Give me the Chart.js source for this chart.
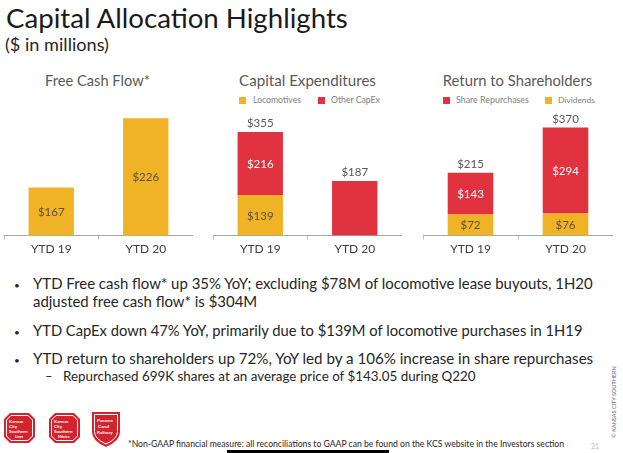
<!DOCTYPE html>
<html>
<head>
<meta charset="utf-8">
<script src="https://cdn.jsdelivr.net/npm/chart.js@4"></script>
<style>
  body { margin: 0; width: 623px; height: 453px; position: relative; overflow: hidden; background: #fff; font-family: Lato, sans-serif; }
  .t { position: absolute; white-space: nowrap; line-height: 1; }
  canvas { position: absolute; }
  .sq { position: absolute; width: 7px; height: 7px; top: 97px; }
  .title { color: #1a1a1a; font-size: 27px; }
  .sub { color: #262626; font-size: 16px; }
  .ct { color: #595959; font-size: 15px; }
  .lg { color: #7f7f7f; font-size: 9px; }
  .bl { color: #262626; font-size: 15.5px; }
  .dot { color: #262626; font-size: 10px; }
  .sm { color: #262626; font-size: 13px; }
  .fn { color: #262626; font-size: 7.5px; }
</style>
</head>
<body>

<div class="t title" data-x="6" data-cy="19" data-w="342">Capital Allocation Highlights</div>
<div class="t sub" data-x="5" data-cy="45" data-w="104">($ in millions)</div>

<div class="t ct" data-cx="97.5" data-cy="81.3" data-w="105">Free Cash Flow*</div>
<div class="t ct" data-cx="307.5" data-cy="81.3" data-w="137">Capital Expenditures</div>
<div class="t ct" data-cx="517.5" data-cy="81.3" data-w="149.6">Return to Shareholders</div>

<div class="sq" style="left:239px;background:#EFB325"></div>
<div class="t lg" data-x="253" data-cy="100.5" data-w="48">Locomotives</div>
<div class="sq" style="left:318px;background:#E0333F"></div>
<div class="t lg" data-x="331" data-cy="100.5" data-w="49">Other CapEx</div>
<div class="sq" style="left:443px;background:#E0333F"></div>
<div class="t lg" data-x="456" data-cy="100.5" data-w="73">Share Repurchases</div>
<div class="sq" style="left:545px;background:#EFB325"></div>
<div class="t lg" data-x="558" data-cy="100.5" data-w="37">Dividends</div>

<canvas id="fcfChart" width="189" height="148" style="left:4px;top:110px"></canvas>
<canvas id="capexChart" width="189" height="148" style="left:213px;top:110px"></canvas>
<canvas id="returnChart" width="190" height="148" style="left:423px;top:110px"></canvas>

<div class="t dot" data-x="14" data-cy="285">•</div>
<div class="t bl" id="line1" data-x="33" data-cy="284" data-w="560">YTD Free cash flow* up 35% YoY; excluding $78M of locomotive lease buyouts, 1H20</div>
<div class="t bl" id="line2" data-x="33" data-cy="302">adjusted free cash flow* is $304M</div>
<div class="t dot" data-x="14" data-cy="332">•</div>
<div class="t bl" data-x="33" data-cy="331" data-w="550">YTD CapEx down 47% YoY, primarily due to $139M of locomotive purchases in 1H19</div>
<div class="t dot" data-x="14" data-cy="360">•</div>
<div class="t bl" data-x="33" data-cy="359" data-w="561">YTD return to shareholders up 72%, YoY led by a 106% increase in share repurchases</div>
<div class="t sm" data-x="45" data-cy="376.7">–</div>
<div class="t sm" data-x="63" data-cy="376.7" data-w="413">Repurchased 699K shares at an average price of $143.05 during Q220</div>

<div class="t fn" data-x="128" data-cy="445" data-w="437">*Non-GAAP financial measure: all reconciliations to GAAP can be found on the KCS website in the Investors section</div>
<div style="position:absolute;left:227px;top:449.5px;width:162px;height:3.5px;background:#000"></div>
<div class="t" style="left:591px;top:443px;font-size:7px;color:#bdbdbd">21</div>
<div class="t" style="left:615px;top:402px;font-size:5.5px;color:#666;transform:translate(-50%,-50%) rotate(-90deg)">© KANSAS CITY SOUTHERN</div>

<svg style="position:absolute;left:0;top:408px" width="125" height="42">
  <g font-family="Lato, sans-serif" font-weight="bold" fill="#fff">
    <path d="M10 5 H29 L35 11 V29 L29 35 H10 L4 29 V11 Z" fill="#D2232E"/>
    <path d="M11 7.5 H28 L32.5 12 V28 L28 32.5 H11 L6.5 28 V12 Z" fill="none" stroke="#fff" stroke-width="1"/>
    <text x="9" y="15" font-size="4.5">Kansas</text>
    <text x="9" y="20" font-size="4.5">City</text>
    <text x="9" y="25" font-size="4.5">Southern</text>
    <text x="15" y="30" font-size="3.5">Lines</text>

    <path d="M55 5 H74 L80 11 V29 L74 35 H55 L49 29 V11 Z" fill="#D2232E"/>
    <path d="M56 7.5 H73 L77.5 12 V28 L73 32.5 H56 L51.5 28 V12 Z" fill="none" stroke="#fff" stroke-width="1"/>
    <text x="54" y="15" font-size="4.5">Kansas</text>
    <text x="54" y="20" font-size="4.5">City</text>
    <text x="54" y="25" font-size="4.5">Southern</text>
    <text x="58" y="30" font-size="3.5">México</text>

    <path d="M92 4 H120 V24 Q120 33 106 39 Q92 33 92 24 Z" fill="#D2232E"/>
    <path d="M94.5 6.5 H117.5 V23.5 Q117.5 31 106 36 Q94.5 31 94.5 23.5 Z" fill="none" stroke="#fff" stroke-width="1"/>
    <text x="97" y="14" font-size="4.5">Panama</text>
    <text x="98" y="20" font-size="4.5">Canal</text>
    <text x="97" y="26" font-size="4.5">Railway</text>
  </g>
</svg>

<script>
const FONT = 'Lato, sans-serif';

// ── chart data ($ in millions) ──────────────────────────────
const categories = ['YTD 19', 'YTD 20'];

const fcfValues = [167, 226];

const locomotiveValues = [139, 0];
const otherCapexValues = [216, 187];
const capexTotals = [355, 187];

const dividendValues = [72, 76];
const repurchaseValues = [143, 294];
const returnTotals = [215, 370];

const YELLOW = '#EFB325';
const RED = '#E0333F';

// value labels: inside each segment, totals above the stack
const barLabels = {
  id: 'barLabels',
  afterDatasetsDraw(chart, args, opts) {
    const ctx = chart.ctx;
    const bottom = chart.chartArea.bottom;
    ctx.save();
    ctx.font = '11.5px ' + FONT;
    ctx.textAlign = 'center';
    ctx.textBaseline = 'middle';
    const tops = [];
    chart.data.datasets.forEach((ds, i) => {
      chart.getDatasetMeta(i).data.forEach((bar, j) => {
        const v = ds.data[j];
        if (!v) return;
        tops[j] = Math.min(tops[j] ?? Infinity, bar.y);
        if (opts.totals && opts.totals[j] === v) return;
        const base = Math.min(bar.base, bottom);
        ctx.fillStyle = ds.labelColor;
        ctx.fillText('$' + v, bar.x, (bar.y + base) / 2 + 0.5);
      });
    });
    if (opts.totals) {
      const meta = chart.getDatasetMeta(0);
      ctx.fillStyle = '#595959';
      opts.totals.forEach((t, j) => {
        ctx.fillText('$' + t, meta.data[j].x, tops[j] - 8.5);
      });
    }
    ctx.restore();
  }
};

function barChart(id, datasets, yMin, yMax, totals) {
  return new Chart(document.getElementById(id), {
    type: 'bar',
    data: { labels: categories, datasets },
    options: {
      responsive: false,
      animation: false,
      layout: { padding: 0 },
      plugins: {
        legend: { display: false },
        tooltip: { enabled: false },
        barLabels: { totals }
      },
      scales: {
        x: {
          stacked: true,
          grid: { offset: true, drawOnChartArea: false, tickLength: 4, color: '#bfbfbf' },
          border: { color: '#a6a6a6' },
          ticks: { color: '#404040', padding: 2, font: { family: FONT, size: 12 } }
        },
        y: { stacked: true, display: false, min: yMin, max: yMax }
      }
    },
    plugins: [barLabels]
  });
}

function bar(label, data, color, labelColor) {
  return {
    label, data,
    backgroundColor: color,
    labelColor,
    barPercentage: 0.48,
    categoryPercentage: 1
  };
}

function layoutText() {
  document.querySelectorAll('.t[data-w]').forEach(el => {
    const size = parseFloat(getComputedStyle(el).fontSize);
    const w = el.getBoundingClientRect().width;
    el.style.fontSize = (size * (+el.dataset.w) / w) + 'px';
  });
  const l1 = document.getElementById('line1');
  document.getElementById('line2').style.fontSize = l1.style.fontSize;
  document.querySelectorAll('.t[data-cy]').forEach(el => {
    const size = parseFloat(getComputedStyle(el).fontSize);
    const w = el.getBoundingClientRect().width;
    const x = el.dataset.cx ? (+el.dataset.cx - w / 2) : +el.dataset.x;
    el.style.left = x + 'px';
    el.style.top = (+el.dataset.cy - 0.53 * size) + 'px';
  });
}

window.addEventListener('DOMContentLoaded', () => {
  layoutText();

  barChart('fcfChart', [
    bar('Free Cash Flow', fcfValues, YELLOW, '#5c5240')
  ], 126, 233, null);

  barChart('capexChart', [
    bar('Locomotives', locomotiveValues, YELLOW, '#5c5240'),
    bar('Other CapEx', otherCapexValues, RED, '#ffffff')
  ], 0, 430, capexTotals);

  barChart('returnChart', [
    bar('Dividends', dividendValues, YELLOW, '#5c5240'),
    bar('Share Repurchases', repurchaseValues, RED, '#ffffff')
  ], 0, 430, returnTotals);
});
</script>
</body>
</html>
